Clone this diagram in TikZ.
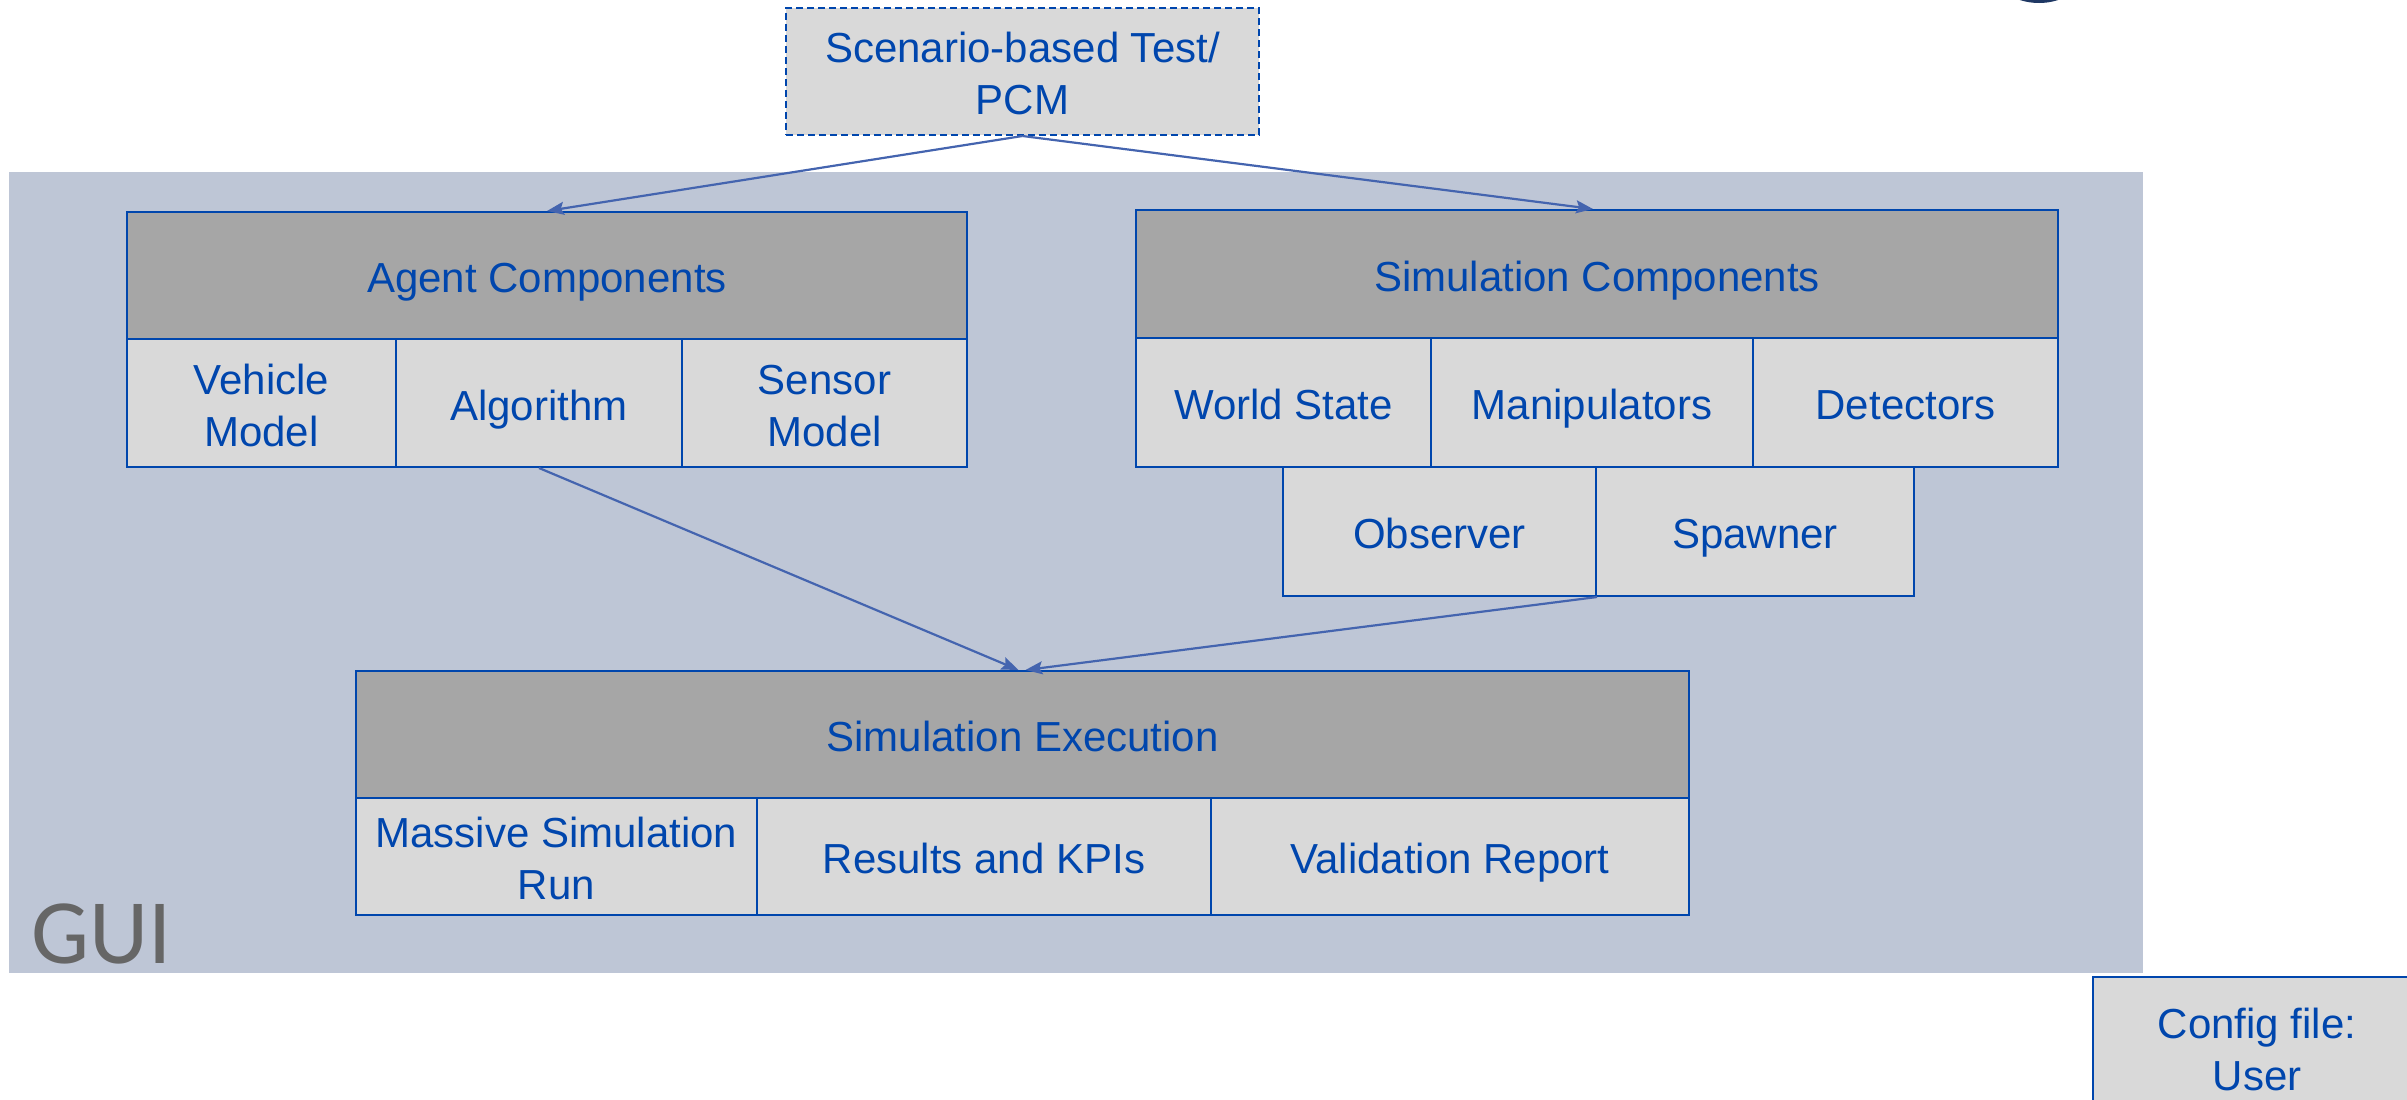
\documentclass[tikz,border=0pt]{standalone}
\usepackage{fontspec}
\setmainfont{Liberation Sans}
\newfontfamily\guifont{Carlito}
\usetikzlibrary{arrows.meta}
\definecolor{guibg}{RGB}{190,198,214}
\definecolor{bordblue}{RGB}{0,70,173}
\definecolor{txtblue}{RGB}{0,70,173}
\definecolor{arrblue}{RGB}{68,100,175}
\definecolor{hdrgray}{RGB}{166,166,166}
\definecolor{subgray}{RGB}{217,217,217}
\definecolor{guitext}{RGB}{102,102,102}
\definecolor{navy}{RGB}{31,56,100}
\newcommand\boxstrut{\rule[-10pt]{0pt}{54pt}}
\newcommand\mlstrut{\rule{0pt}{87pt}}
\begin{document}
\begin{tikzpicture}[x=1pt,y=-1pt,
 box/.style={draw=bordblue, line width=2pt, text=txtblue, font=\fontsize{42}{52}\selectfont, align=center, inner sep=0pt},
 one/.style={execute at begin node=\boxstrut, execute at end node=\boxstrut},
 ml/.style={execute at begin node=\mlstrut},
 hdr/.style={box, one, fill=hdrgray},
 sub/.style={box, one, fill=subgray},
 subml/.style={box, ml, fill=subgray},
 arr/.style={draw=arrblue, line width=2.2pt, -{Stealth[length=17pt,width=13pt,inset=3pt]}}]
\useasboundingbox (0,0) rectangle (2407,1100);
\clip (0,0) rectangle (2407,1100);
\fill[navy] (2039,-59) circle (62);
\fill[guibg] (9,172) rectangle (2143,973);
% scenario
\node[subml, dash pattern=on 7pt off 4pt, minimum width=473pt, minimum height=127pt] (sc) at (1022.5,71.5) {Scenario-based Test/\\PCM};
% agent components
\node[hdr, minimum width=840pt, minimum height=127pt] (ac) at (547,275.5) {Agent Components};
\node[subml, minimum width=269pt, minimum height=128pt] (veh) at (261.5,403) {Vehicle\\Model};
\node[sub, minimum width=286pt, minimum height=128pt] (alg) at (539,403) {Algorithm};
\node[subml, minimum width=285pt, minimum height=128pt] (sen) at (824.5,403) {Sensor\\Model};
% simulation components
\node[hdr, minimum width=922pt, minimum height=128pt] (sim) at (1597,274) {Simulation Components};
\node[sub, minimum width=295pt, minimum height=129pt] (ws) at (1283.5,402.5) {World State};
\node[sub, minimum width=322pt, minimum height=129pt] (man) at (1592,402.5) {Manipulators};
\node[sub, minimum width=305pt, minimum height=129pt] (det) at (1905.5,402.5) {Detectors};
\node[sub, minimum width=313pt, minimum height=129pt] (obs) at (1439.5,531.5) {Observer};
\node[sub, minimum width=318pt, minimum height=129pt] (spw) at (1755,531.5) {Spawner};
% execution
\node[hdr, minimum width=1333pt, minimum height=127pt] (ex) at (1022.5,734.5) {Simulation Execution};
\node[subml, minimum width=401pt, minimum height=117pt] (msr) at (556.5,856.5) {Massive Simulation\\Run};
\node[sub, minimum width=454pt, minimum height=117pt] (kpi) at (984,856.5) {Results and KPIs};
\node[sub, minimum width=478pt, minimum height=117pt] (val) at (1450,856.5) {Validation Report};
% GUI label
\node[anchor=base west, text=guitext, font=\guifont\fontsize{92}{92}\selectfont, inner sep=0pt] (gui) at (31,963) {GUI};
% config
\node[subml, minimum width=328pt, minimum height=140pt] (cfg) at (2257,1047) {Config file:\\User};
% arrows
\draw[arr] (sc.south) -- (ac.north);
\draw[arr] (sc.south) -- ([xshift=-4pt]sim.north);
\draw[arr] (alg.south) -- ([xshift=-4pt]ex.north);
\draw[arr] (obs.south east) -- ([xshift=3pt]ex.north);
\end{tikzpicture}
\end{document}
